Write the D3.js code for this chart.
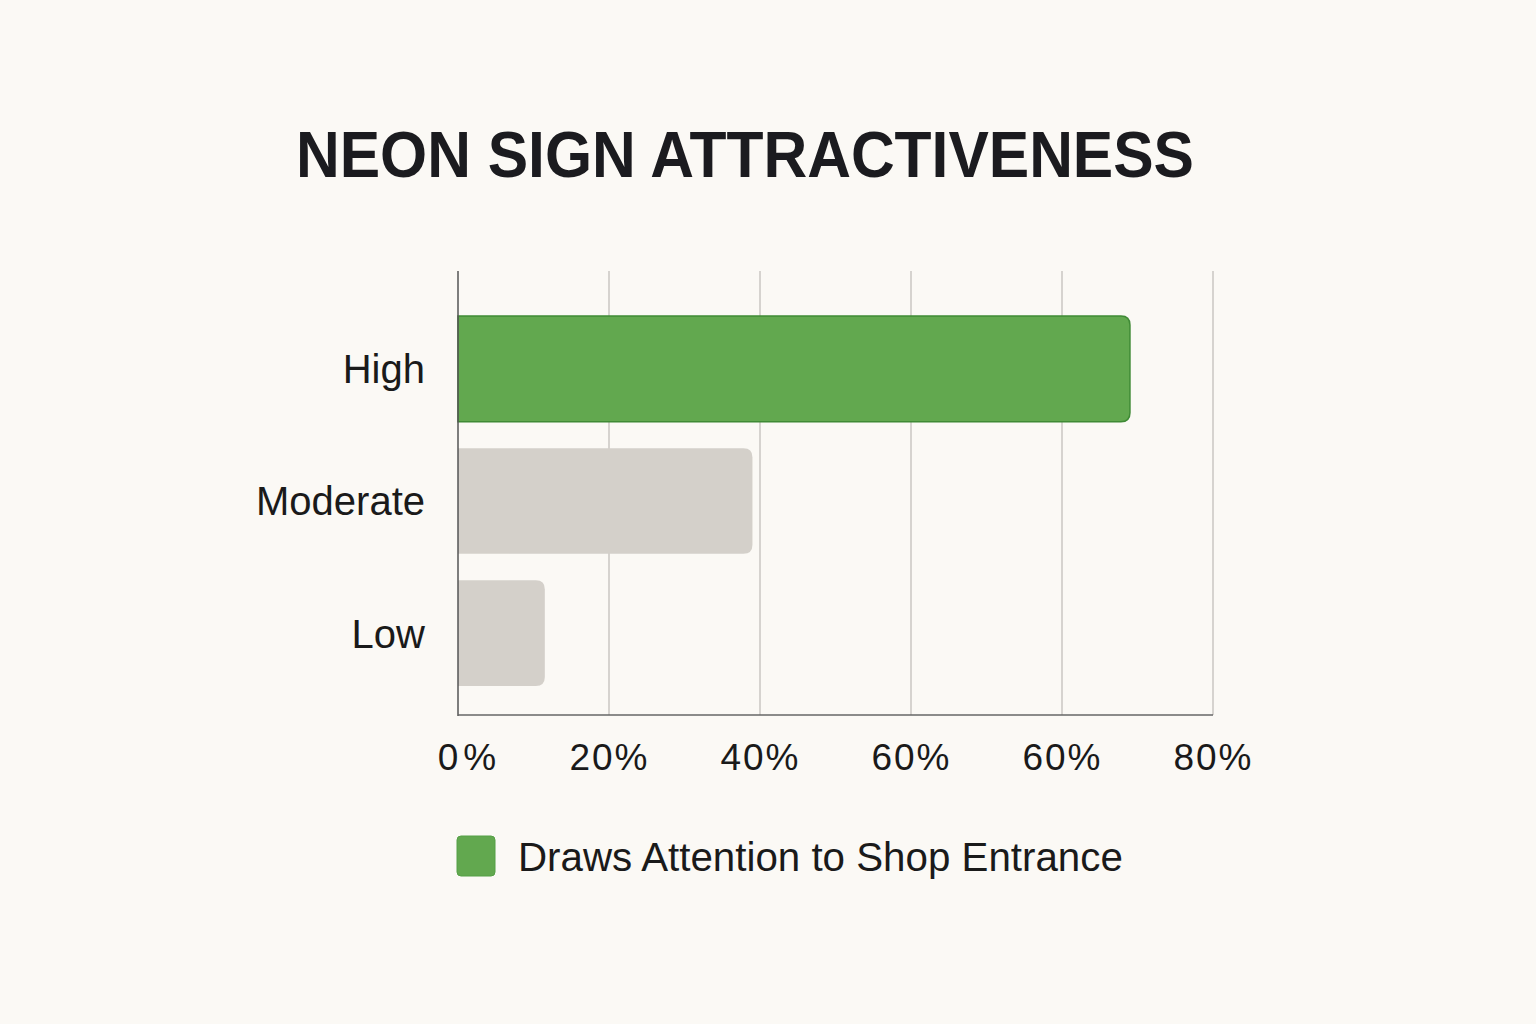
<!DOCTYPE html>
<html><head><meta charset="utf-8">
<script src="https://cdn.jsdelivr.net/npm/d3@7"></script>
<style>
html,body{margin:0;padding:0;background:#fbf9f5;}
svg{display:block;}
</style></head>
<body>
<svg id="chart" width="1536" height="1024"></svg>
<script>
const title = "NEON SIGN ATTRACTIVENESS";
const categories = ["High", "Moderate", "Low"];
const values = [89, 39, 11.5];
const tickValues = [0, 20, 40, 60, 80, 100];
const tickLabels = ["0%", "20%", "40%", "60%", "60%", "80%"];
const legendLabel = "Draws Attention to Shop Entrance";
const barColors = ["#62a84f", "#d4d0ca", "#d4d0ca"];
const barStrokes = ["#3f8a35", "none", "none"];

const svg = d3.select("#chart");
svg.append("rect").attr("width",1536).attr("height",1024).attr("fill","#fbf9f5");

const plotL = 458, plotR = 1213, plotT = 271, plotB = 715;
const x = d3.scaleLinear().domain([0,100]).range([plotL,plotR]);
const y = d3.scaleBand().domain(categories).range([316,686]).paddingInner(0.2).paddingOuter(0);

// title
const t = svg.append("text").attr("x",745).attr("y",177).attr("text-anchor","middle")
  .attr("font-family","Liberation Sans, Arial, sans-serif").attr("font-weight","bold")
  .attr("font-size",64).attr("fill","#1b1b1f").text(title);
t.attr("textLength", 898).attr("lengthAdjust","spacingAndGlyphs");

// grid
svg.append("g").selectAll("line").data(tickValues.slice(1)).join("line")
  .attr("x1",d=>x(d)).attr("x2",d=>x(d)).attr("y1",plotT).attr("y2",plotB)
  .attr("stroke","#d6d3cf").attr("stroke-width",2);

// bars (rounded right side only)
function barPath(x0,y0,w,h,r){
  r=Math.min(r,w,h/2);
  return `M${x0},${y0}H${x0+w-r}Q${x0+w},${y0} ${x0+w},${y0+r}V${y0+h-r}Q${x0+w},${y0+h} ${x0+w-r},${y0+h}H${x0}Z`;
}
svg.append("g").selectAll("path").data(values).join("path")
  .attr("d",(d,i)=>barPath(x(0),y(categories[i]),x(d)-x(0),y.bandwidth(),9))
  .attr("fill",(d,i)=>barColors[i])
  .attr("stroke",(d,i)=>barStrokes[i]).attr("stroke-width",1.5);

// axes lines
svg.append("line").attr("x1",plotL).attr("x2",plotL).attr("y1",plotT).attr("y2",plotB+1)
  .attr("stroke","#555").attr("stroke-width",1.5);
svg.append("line").attr("x1",plotL).attr("x2",plotR).attr("y1",plotB).attr("y2",plotB)
  .attr("stroke","#666").attr("stroke-width",1.5);

// x tick labels
const xAxis = d3.axisBottom(x).tickValues(tickValues).tickSize(0).tickPadding(0)
  .tickFormat((d,i)=>tickLabels[i]);
const gx = svg.append("g").attr("transform",`translate(0,${plotB})`).call(xAxis);
gx.select(".domain").remove();
gx.selectAll("text").attr("y",55).attr("dy",null)
  .attr("x",(d,i)=>i===0?11:0)
  .attr("font-family","Liberation Sans, Arial, sans-serif").attr("font-size",37)
  .attr("letter-spacing",(d,i)=>i===0?5:2).attr("fill","#1a1a1a");

// y labels
const yAxis = d3.axisLeft(y).tickSize(0).tickPadding(0);
const gy = svg.append("g").attr("transform",`translate(${plotL-33},0)`).call(yAxis);
gy.select(".domain").remove();
gy.selectAll("text").attr("dy","0.36em")
  .attr("font-family","Liberation Sans, Arial, sans-serif").attr("font-size",40)
  .attr("fill","#1a1a1a");

// legend
svg.append("rect").attr("x",457).attr("y",836).attr("width",38).attr("height",40).attr("rx",4)
  .attr("fill","#62a84f").attr("stroke","#55a046").attr("stroke-width",1);
svg.append("text").attr("x",518).attr("y",871)
  .attr("font-family","Liberation Sans, Arial, sans-serif").attr("font-size",40.3)
  .attr("fill","#1a1a1a").text(legendLabel);
</script>
</body></html>
